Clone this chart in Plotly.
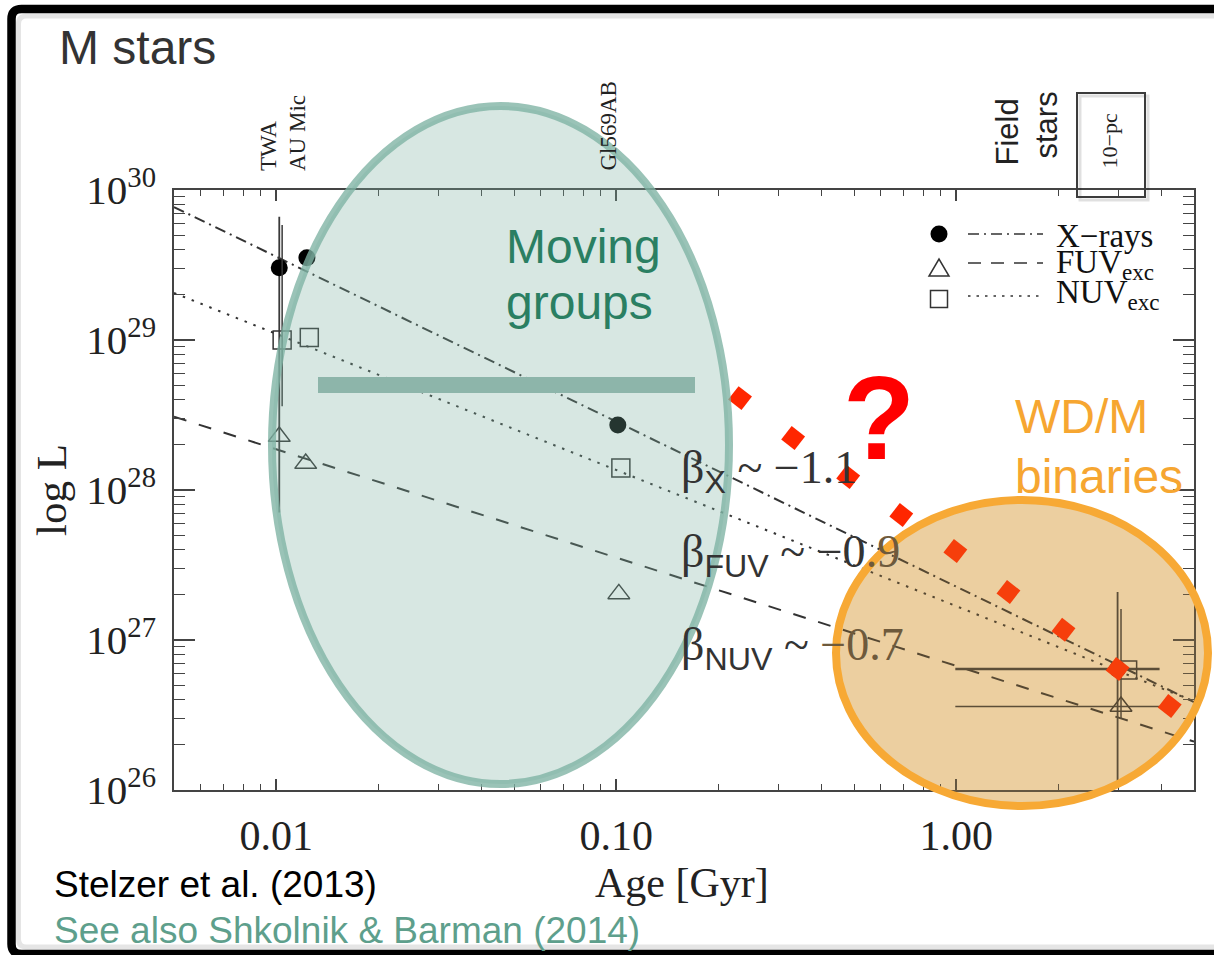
import numpy as np
import plotly.graph_objects as go

# ---------------------------------------------------------------- data
# X-ray luminosities (filled circles): TWA, AU Mic, Gl569AB, 10-pc field stars
age_xray = [0.0102, 0.0123, 0.101, 2.98]
lum_xray = [3.03e29, 3.54e29, 2.71e28, 6.4e26]
lum_xray_hi = [6.64e29, 3.54e29, 2.71e28, 2.09e27]
lum_xray_lo = [7.09e27, 3.54e29, 2.71e28, 1.11e26]
age_xray_lo = [0.0102, 0.0123, 0.101, 0.993]
age_xray_hi = [0.0102, 0.0123, 0.101, 3.96]

# FUV excess luminosities (open triangles)
age_fuv = [0.0102, 0.0122, 0.1017, 3.05]
lum_fuv = [2.27e28, 1.50e28, 2.03e27, 3.6e26]
lum_fuv_hi = [2.27e28, 1.50e28, 2.03e27, 1.61e27]
lum_fuv_lo = [2.27e28, 1.50e28, 2.03e27, 3.0e26]
age_fuv_lo = [0.0102, 0.0122, 0.1017, 0.993]
age_fuv_hi = [0.0102, 0.0122, 0.1017, 3.96]

# NUV excess luminosities (open squares)
age_nuv = [0.0104, 0.0125, 0.1031, 3.19]
lum_nuv = [1.0e29, 1.04e29, 1.40e28, 6.3e26]
lum_nuv_hi = [5.84e29, 1.04e29, 1.40e28, 6.3e26]
lum_nuv_lo = [3.61e28, 1.04e29, 1.40e28, 6.3e26]

# power-law fits across the plotted age range
fit_age = [0.005, 5.0]
fit_xray = [7.7e29, 3.86e26]
fit_fuv = [3.08e28, 2.1e26]
fit_nuv = [2.06e29, 3.9e26]

# WD/M binary ages and luminosities (red diamonds)
age_wdm = [0.2311, 0.3311, 0.4807, 0.6887, 0.9933, 1.4231, 2.0663, 2.980, 4.241]
lum_wdm = [4.10e28, 2.22e28, 1.22e28, 6.81e27, 3.92e27, 2.09e27, 1.17e27, 6.41e26, 3.63e26]

x_tick_vals = [0.01, 0.1, 1.0]
x_tick_text = ["0.01", "0.10", "1.00"]
y_tick_vals = [1e26, 1e27, 1e28, 1e29, 1e30]
y_tick_text = ["10<sup>26</sup>", "10<sup>27</sup>", "10<sup>28</sup>",
               "10<sup>29</sup>", "10<sup>30</sup>"]

# ---------------------------------------------------------------- layout geometry
W, H = 1214, 955
ML, MR, MT, MB = 174, 20, 190, 165
PW, PH = W - ML - MR, H - MT - MB


def px(x):
    return (x - ML) / PW


def py(y):
    return (H - MB - y) / PH


SERIF = "Liberation Serif, Times New Roman, serif"
SANS = "Liberation Sans, Arial, sans-serif"
INK = "#333333"


def diff(a, b):
    return [max(u - v, 0.0) for u, v in zip(a, b)]


fig = go.Figure()

line_style = dict(color="#333333", width=2)
fig.add_trace(go.Scatter(x=fit_age, y=fit_xray, mode="lines",
                         line=dict(line_style, dash="11px,5px,2px,5px"), hoverinfo="skip"))
fig.add_trace(go.Scatter(x=fit_age, y=fit_fuv, mode="lines",
                         line=dict(line_style, dash="13px,13px"), hoverinfo="skip"))
fig.add_trace(go.Scatter(x=fit_age, y=fit_nuv, mode="lines",
                         line=dict(line_style, dash="2.5px,7px"), hoverinfo="skip"))

err_col = "#3a3a3a"
fig.add_trace(go.Scatter(
    x=age_xray, y=lum_xray, mode="markers",
    marker=dict(symbol="circle", size=17, color="#000000"),
    error_y=dict(type="data", symmetric=False, array=diff(lum_xray_hi, lum_xray),
                 arrayminus=diff(lum_xray, lum_xray_lo), width=0, thickness=1.8, color=err_col),
    error_x=dict(type="data", symmetric=False, array=diff(age_xray_hi, age_xray),
                 arrayminus=diff(age_xray, age_xray_lo), width=0, thickness=2.6, color=err_col),
))
fig.add_trace(go.Scatter(
    x=age_fuv, y=lum_fuv, mode="markers",
    marker=dict(symbol="triangle-up-open", size=19, color="#333333", line=dict(width=1.5)),
    error_y=dict(type="data", symmetric=False, array=diff(lum_fuv_hi, lum_fuv),
                 arrayminus=diff(lum_fuv, lum_fuv_lo), width=0, thickness=1.5, color=err_col),
    error_x=dict(type="data", symmetric=False, array=diff(age_fuv_hi, age_fuv),
                 arrayminus=diff(age_fuv, age_fuv_lo), width=0, thickness=1.5, color=err_col),
))
fig.add_trace(go.Scatter(
    x=age_nuv, y=lum_nuv, mode="markers",
    marker=dict(symbol="square-open", size=18, color="#333333", line=dict(width=1.5)),
    error_y=dict(type="data", symmetric=False, array=diff(lum_nuv_hi, lum_nuv),
                 arrayminus=diff(lum_nuv, lum_nuv_lo), width=0, thickness=1.5, color=err_col),
))
fig.add_trace(go.Scatter(
    x=age_wdm, y=lum_wdm, mode="markers",
    marker=dict(symbol="square", size=17, angle=38, color="#ff2600", line=dict(width=0)),
))

# ---------------------------------------------------------------- shapes
shapes = []
# WD/M region, base tint underneath the data
shapes.append(dict(type="circle", xref="paper", yref="paper", layer="below",
                   x0=px(836), x1=px(1208), y0=py(806), y1=py(500),
                   fillcolor="#f2dfbf", line=dict(width=0)))
# moving groups region
shapes.append(dict(type="circle", xref="paper", yref="paper", layer="above",
                   x0=px(272), x1=px(729), y0=py(784), y1=py(106),
                   fillcolor="rgba(122,176,160,0.30)",
                   line=dict(color="rgba(125,178,163,0.78)", width=8)))
shapes.append(dict(type="rect", xref="paper", yref="paper", layer="above",
                   x0=px(318), x1=px(695), y0=py(393), y1=py(377),
                   fillcolor="#8db5aa", line=dict(width=0)))
# WD/M region, translucent overlay and rim
shapes.append(dict(type="circle", xref="paper", yref="paper", layer="above",
                   x0=px(836), x1=px(1208), y0=py(806), y1=py(500),
                   fillcolor="rgba(214,150,50,0.22)",
                   line=dict(color="#f7a935", width=8)))

# legend glyphs
shapes.append(dict(type="circle", xref="paper", yref="paper", layer="above",
                   x0=px(930.5), x1=px(947.5), y0=py(242.5), y1=py(225.5),
                   fillcolor="#000000", line=dict(width=0)))
tri = "M {},{} L {},{} L {},{} Z".format(px(929), py(276), px(949), py(276), px(939), py(259))
shapes.append(dict(type="path", xref="paper", yref="paper", layer="above", path=tri,
                   line=dict(color="#333333", width=1.5)))
shapes.append(dict(type="rect", xref="paper", yref="paper", layer="above",
                   x0=px(930.5), x1=px(947.5), y0=py(307.5), y1=py(290.5),
                   line=dict(color="#333333", width=1.5)))
for yy, dash in [(234, "11px,5px,2px,5px"), (263, "13px,10px"), (296, "2.5px,6px")]:
    shapes.append(dict(type="line", xref="paper", yref="paper", layer="above",
                       x0=px(968), x1=px(1043), y0=py(yy), y1=py(yy),
                       line=dict(color="#333333", width=1.6, dash=dash)))

# 10-pc sample box with a soft shadow
shapes.append(dict(type="rect", xref="paper", yref="paper", layer="above",
                   x0=px(1080), x1=px(1148), y0=py(200), y1=py(96),
                   line=dict(color="rgba(0,0,0,0.12)", width=3)))
shapes.append(dict(type="rect", xref="paper", yref="paper", layer="above",
                   x0=px(1077), x1=px(1145), y0=py(197), y1=py(93),
                   line=dict(color="#3c3c3c", width=2)))

# slide frame
def frame_path(xl, yt, yb, xr, rad):
    return ("M {},{} L {},{} Q {},{} {},{} L {},{} Q {},{} {},{} L {},{}".format(
        px(xr), py(yt), px(xl + rad), py(yt), px(xl), py(yt), px(xl), py(yt + rad),
        px(xl), py(yb - rad), px(xl), py(yb), px(xl + rad), py(yb), px(xr), py(yb)))


shapes.append(dict(type="path", xref="paper", yref="paper", layer="above",
                   path=frame_path(18.5, 16, 947, 1240, 8),
                   line=dict(color="rgba(0,0,0,0.10)", width=5)))
shapes.append(dict(type="path", xref="paper", yref="paper", layer="above",
                   path=frame_path(11.5, 9, 954, 1240, 10),
                   line=dict(color="#000000", width=8.5)))

# ---------------------------------------------------------------- text
def label(x, y, s, size, color=INK, family=SERIF, xanchor="left", yanchor="middle", angle=0):
    return dict(x=px(x), y=py(y), xref="paper", yref="paper", text=s, showarrow=False,
                font=dict(size=size, color=color, family=family), xanchor=xanchor,
                yanchor=yanchor, textangle=angle, borderpad=0)


sub_sans = "<sub><span style='font-family:Liberation Sans, Arial, sans-serif'>{}</span></sub>"
brown = "#6e5a3c"
annotations = [
    label(58, 47, "M stars", 48, family=SANS),
    label(51, 490, "log L", 43, color="#222222", xanchor="center", angle=-90),
    label(682, 883, "Age [Gyr]", 42, color="#222222", xanchor="center"),
    label(268, 172, "TWA", 23, color="#222222", xanchor="center", yanchor="bottom", angle=-90),
    label(297, 172, "AU Mic", 23, color="#222222", xanchor="center", yanchor="bottom", angle=-90),
    label(608, 172, "Gl569AB", 23, color="#222222", xanchor="center", yanchor="bottom", angle=-90),
    label(1007, 167, "Field", 31, color="#222222", family=SANS, xanchor="center",
          yanchor="bottom", angle=-90),
    label(1046, 160, "stars", 31, color="#222222", family=SANS, xanchor="center",
          yanchor="bottom", angle=-90),
    label(1109, 170, "10−pc", 22, color="#222222", xanchor="center", yanchor="bottom", angle=-90),
    label(1055, 236, "X−rays", 33, color="#111111"),
    label(1055, 264.5, "FUV<sub>exc</sub>", 33, color="#111111"),
    label(1055, 294.5, "NUV<sub>exc</sub>", 33, color="#111111"),
    label(505, 246, "Moving", 48, color="#2a7f62", family=SANS),
    label(505, 302, "groups", 48, color="#2a7f62", family=SANS),
    label(1014, 416, "WD/M", 48, color="#f6a631", family=SANS),
    label(1014, 476, "binaries", 48, color="#f6a631", family=SANS),
    dict(x=px(879), y=py(418), xref="paper", yref="paper", text="<b>?</b>", showarrow=False,
         font=dict(size=118, color="#ff0000", family=SANS), xanchor="center", yanchor="middle"),
    label(680, 471, "β" + sub_sans.format("X") + " ~ −1.1", 46),
    label(680, 555, "β" + sub_sans.format("FUV") + " ~ −0<span style='fill:" + brown + "'>.9</span>", 46),
    label(680, 648, "β" + sub_sans.format("NUV") + " ~ <span style='fill:" + brown + "'>−0.7</span>", 46),
    label(53, 885, "Stelzer et al. (2013)", 37, color="#000000", family=SANS),
    label(53, 931, "See also Shkolnik &amp; Barman (2014)", 37, color="#5e9f8c", family=SANS),
]

x_minor = [k * 10.0 ** e for e in range(-3, 1) for k in range(2, 10) if 0.005 <= k * 10.0 ** e <= 5]
y_minor = [k * 10.0 ** e for e in range(26, 30) for k in range(2, 10)]

axis_common = dict(showline=True, linecolor="#444444", linewidth=1.5, mirror="allticks",
                   ticks="inside", tickcolor="#444444", tickwidth=1.5, showgrid=False,
                   zeroline=False)

fig.update_layout(
    width=W, height=H, autosize=False,
    margin=dict(l=ML, r=MR, t=MT, b=MB, pad=0),
    paper_bgcolor="#ffffff", plot_bgcolor="rgba(0,0,0,0)",
    showlegend=False,
    font=dict(family=SERIF, color=INK),
    xaxis=dict(axis_common, type="log", range=[np.log10(0.005), np.log10(5)],
               tickvals=x_tick_vals, ticktext=x_tick_text, ticklen=11, ticklabelstandoff=8,
               tickfont=dict(family=SERIF, size=42, color="#222222"),
               minor=dict(tickvals=x_minor, ticks="inside", ticklen=6, tickwidth=1.2,
                          tickcolor="#444444", showgrid=False)),
    yaxis=dict(axis_common, type="log", range=[26, 30],
               tickvals=y_tick_vals, ticktext=y_tick_text, ticklen=21, ticklabelstandoff=8,
               tickfont=dict(family=SERIF, size=41, color="#222222"),
               minor=dict(tickvals=y_minor, ticks="inside", ticklen=11, tickwidth=1.2,
                          tickcolor="#444444", showgrid=False)),
    shapes=shapes,
    annotations=annotations,
)

fig.write_html("out.html")
